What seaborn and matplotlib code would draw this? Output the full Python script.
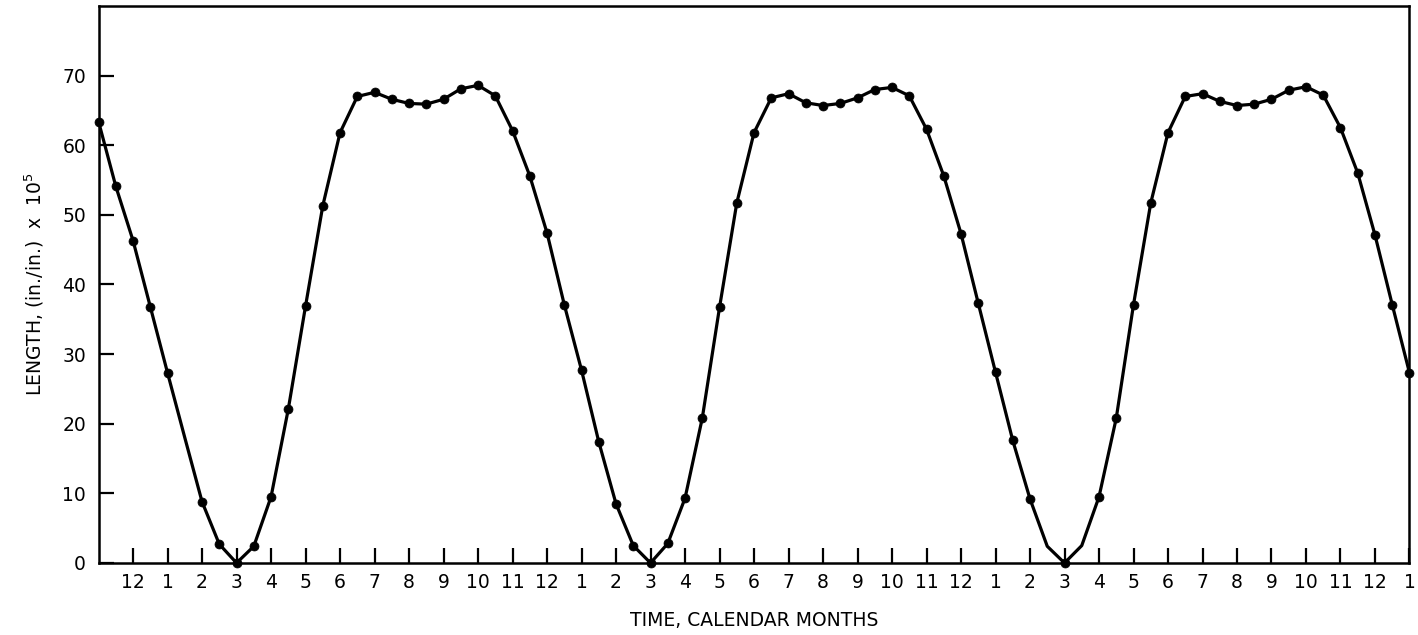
import numpy as np
import pandas as pd
import matplotlib
matplotlib.use("Agg")
import matplotlib.pyplot as plt
import seaborn as sns

# ---- data ----
# time in months from the start of the record (November), half-month steps
time_months = np.arange(0, 38.5, 0.5)
length_vals = [
    63.4, 54.1, 46.3, 36.8, 27.3, 18.0, 8.8, 2.7, 0.0, 2.4,
    9.5, 22.1, 36.9, 51.3, 61.8, 67.0, 67.6, 66.6, 66.0, 65.9,
    66.6, 68.1, 68.6, 67.1, 62.1, 55.6, 47.4, 37.1, 27.7, 17.4,
    8.5, 2.5, 0.0, 2.8, 9.3, 20.8, 36.7, 51.7, 61.8, 66.8,
    67.4, 66.1, 65.7, 66.0, 66.8, 68.0, 68.3, 67.1, 62.3, 55.6,
    47.3, 37.3, 27.4, 17.6, 9.2, 2.4, 0.0, 2.5, 9.5, 20.8,
    37.1, 51.7, 61.8, 67.0, 67.4, 66.3, 65.7, 65.9, 66.6, 67.9,
    68.4, 67.2, 62.5, 56.0, 47.1, 37.1, 27.3,
]
# times where the curve has no plotted dot
no_dot_times = [2.5, 27.5, 28.5]

tick_positions = list(range(1, 39))
month_labels = ["12"] + [str(m) for m in range(1, 13)] * 3 + ["1"]
y_ticks = [0, 10, 20, 30, 40, 50, 60, 70]

df = pd.DataFrame({"time": time_months, "length": length_vals})
dots = df[~df["time"].isin(no_dot_times)]

# ---- style ----
sns.set_style("white")
plt.rcParams["font.family"] = ["DejaVu Sans"]
plt.rcParams["text.color"] = "black"
plt.rcParams["axes.labelcolor"] = "black"

fig = plt.figure(figsize=(14.18, 6.35), dpi=100)
ax = fig.add_axes([0.0695, 0.1134, 0.9245, 0.8772])

sns.lineplot(data=df, x="time", y="length", ax=ax, color="black",
             linewidth=2.3, estimator=None, sort=False, legend=False)
sns.scatterplot(data=dots, x="time", y="length", ax=ax, color="black",
                s=42, edgecolor="black", linewidth=0.5, legend=False,
                zorder=3, clip_on=False)

ax.set_xlim(0, 38)
ax.set_ylim(0, 80)
ax.set_xticks(tick_positions)
ax.set_xticklabels(month_labels)
ax.set_yticks(y_ticks)
ax.set_yticklabels([str(v) for v in y_ticks])

ax.tick_params(axis="both", which="major", direction="in", length=11,
               width=1.6, color="black", labelsize=13.5, labelcolor="black",
               bottom=True, left=True, top=False, right=False)
ax.tick_params(axis="x", pad=7)
ax.tick_params(axis="y", pad=9)

for sp in ax.spines.values():
    sp.set_visible(True)
    sp.set_color("black")
    sp.set_linewidth(1.8)

ax.set_xlabel("TIME, CALENDAR MONTHS", fontsize=13.5, labelpad=14,
              color="black")
ax.set_ylabel("LENGTH, (in./in.)  x  10$^{5}$", fontsize=13.5, labelpad=12,
              color="black")
ax.grid(False)

fig.savefig("out.png", dpi=100, facecolor="white")
